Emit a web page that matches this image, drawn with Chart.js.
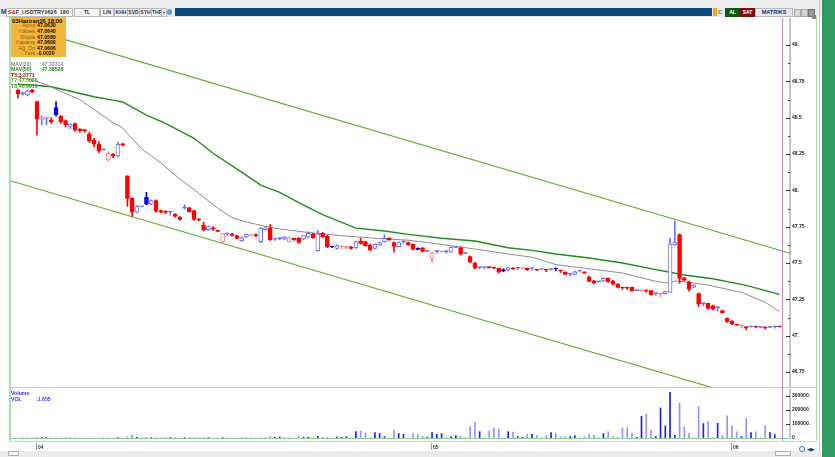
<!DOCTYPE html>
<html>
<head>
<meta charset="utf-8">
<script src="https://cdn.jsdelivr.net/npm/chart.js@4.4.1/dist/chart.umd.min.js"></script>
<style>
  body { margin: 0; width: 835px; height: 457px; overflow: hidden; background: #fff; position: relative;
         font-family: 'Liberation Sans', Arial, sans-serif; }
  .abs { position: absolute; }
  .btn { position: absolute; top: 8px; height: 7px; line-height: 7px; font-size: 5px; font-weight: bold;
         text-align: center; background: #f4f4f4; border: 1px solid #b9b9b9; box-sizing: content-box; color: #333;
         overflow: hidden; white-space: nowrap; }
  .tiny { position: absolute; font-size: 5.2px; font-weight: bold; line-height: 5.5px; white-space: nowrap; }
  #info { left: 11px; top: 17px; width: 55px; height: 40px; background: #f5b53b; }
  #info .row { position: absolute; left: 0; width: 55px; height: 5.5px; font-size: 5.2px; line-height: 5.5px; }
  #info .lab { position: absolute; right: 31px; color: #8a5d12; font-weight: normal; }
  #info .val { position: absolute; left: 26px; color: #111; font-weight: bold; }
</style>
</head>
<body>

<!-- toolbar -->
<div class="abs" style="left:0;top:0;width:822px;height:17px;background:#ececec"></div>
<div class="abs" style="left:1px;top:8px;width:5px;height:8px;font-size:6.5px;font-weight:bold;line-height:8px;color:#1b3f8f">M</div>
<div class="btn" style="left:6px;width:64px;text-align:left;background:#fff;padding-left:1px;font-size:5.5px"><span style="color:#d01818">S&amp;</span>F_USDTRY0626&nbsp;&nbsp;180</div>
<div class="btn" style="left:74px;width:24px">TL</div>
<div class="btn" style="left:100px;width:12px">LIN</div>
<div class="btn" style="left:114px;width:12px">KHH</div>
<div class="btn" style="left:127px;width:11px">SVD</div>
<div class="btn" style="left:139px;width:11px">SYH</div>
<div class="btn" style="left:151px;width:9px">THP</div>
<div class="btn" style="left:161px;width:4px;font-size:4px">&#9660;</div>
<div class="abs" style="left:167px;top:9px;width:5px;height:6px;background:#5aa9e6;border-radius:3px"></div>
<div class="abs" style="left:175px;top:8px;width:537px;height:8px;background:#0d4a7c"></div>
<div class="abs" style="left:713px;top:8px;width:4px;height:8px;background:#f0a820"></div>
<div class="abs" style="left:718px;top:8px;width:5px;height:8px;font-size:6px;line-height:8px;color:#2a8a4a;font-weight:bold">C</div>
<div class="btn" style="left:725px;width:13px;background:#0c5c12;color:#fff;border-color:#0c5c12">AL</div>
<div class="btn" style="left:740px;width:13px;background:#7c0d0d;color:#fff;border-color:#7c0d0d">SAT</div>
<div class="btn" style="left:755px;width:36px;background:#e6e6ee;color:#1f2a66;font-size:5.5px">MATRIKS</div>
<div class="abs" style="left:794px;top:9px;width:5px;height:6px;background:#d6d6d6;border:1px solid #aaa"></div>
<div class="abs" style="left:801px;top:9px;width:5px;height:6px;background:#d6d6d6;border:1px solid #aaa"></div>
<div class="abs" style="left:808px;top:9px;width:5px;height:6px;background:#9a9a9a;border:1px solid #777"></div>
<div class="abs" style="left:812px;top:15px;width:4px;height:4px;background:#8a8a8a"></div>

<!-- right side band -->
<div class="abs" style="left:819px;top:0;width:1px;height:457px;background:#c9c9c9"></div>
<div class="abs" style="left:822px;top:0;width:13px;height:457px;background:#2f9b63"></div>

<!-- charts -->
<div class="abs" style="left:10px;top:18px;width:807px;height:369px"><canvas id="priceChart" width="807" height="369"></canvas></div>
<div class="abs" style="left:10px;top:389px;width:807px;height:63px"><canvas id="volChart" width="807" height="63"></canvas></div>

<!-- frame lines -->
<div class="abs" style="left:9px;top:17px;width:1.5px;height:424px;background:#a9e2a9"></div>
<div class="abs" style="left:816px;top:17px;width:1px;height:424px;background:#a9e2a9"></div>
<div class="abs" style="left:10px;top:386.5px;width:806px;height:1.5px;background:#a9e2a9"></div>
<div class="abs" style="left:10px;top:437.5px;width:780px;height:1.5px;background:#8fd08f"></div>
<div class="abs" style="left:10px;top:440.5px;width:806px;height:1px;background:#d2d2d2"></div>
<div class="abs" style="left:781.5px;top:18px;width:1px;height:423px;background:#c98ac9"></div>
<div class="abs" style="left:0;top:451px;width:822px;height:6px;background:#ebebeb"></div>
<div class="abs" style="left:8px;top:451px;width:9px;height:3px;border:1px solid #b0b0b0;background:#f6f6f6"></div>
<div class="abs" style="left:775px;top:451px;width:14px;height:3px;border:1px solid #b0b0b0;background:#f6f6f6"></div>
<div class="abs" style="left:799px;top:446px;width:6px;height:6px;border-radius:3px;border:1.5px solid #2f6fd0;box-sizing:border-box"></div>
<div class="abs" style="left:807px;top:446px;font-size:5px;line-height:6px;color:#1b3f8f">&#9664;&#9654;</div>

<!-- info box -->
<div id="info" class="abs">
  <div class="abs" style="left:1px;top:0.5px;font-size:5.8px;font-weight:bold;line-height:6px;color:#111">03Haziran26 18:00</div>
</div>

<!-- indicator captions -->
<div class="tiny" style="left:11px;top:61.5px;color:#8a8a8a">MAV(22)</div>
<div class="tiny" style="left:40px;top:61.5px;color:#8a8a8a">:47.33714</div>
<div class="tiny" style="left:11px;top:67px;color:#1e8c1e">MAV(50)</div>
<div class="tiny" style="left:40px;top:67px;color:#1e8c1e">:47.38528</div>
<div class="tiny" style="left:11px;top:72.5px;color:#a41010">T5:3.3771</div>
<div class="tiny" style="left:11px;top:78px;color:#4f9a28">T7:47.5820</div>
<div class="tiny" style="left:11px;top:83.5px;color:#4f9a28">T8:46.9910</div>

<div class="tiny" style="left:11px;top:391px;color:#2f2fff">Volume</div>
<div class="tiny" style="left:11px;top:396.5px;color:#2f2fff">VOL</div>
<div class="tiny" style="left:36px;top:396.5px;color:#2f2fff">:1,655</div>

<script>
// ---- data (one candle per index) ----
const opens = [
  48.690, 48.665, 48.656, 48.690, 48.610, 48.490, 48.495, 48.485, 48.570, 48.510,
  48.480, 48.440, 48.460, 48.420, 48.418, 48.385, 48.346, 48.317, 48.278, 48.210,
  48.248, 48.236, 48.320, 48.100, 47.945, 47.850, 47.888, 47.952, 47.904, 47.930,
  47.860, 47.858, 47.850, 47.835, 47.815, 47.878, 47.880, 47.860, 47.803, 47.760,
  47.730, 47.742, 47.722, 47.646, 47.700, 47.700, 47.688, 47.653, 47.680, 47.690,
  47.695, 47.646, 47.730, 47.740, 47.665, 47.668, 47.665, 47.647, 47.670, 47.670,
  47.665, 47.680, 47.700, 47.585, 47.705, 47.685, 47.614, 47.600, 47.612, 47.607,
  47.612, 47.605, 47.650, 47.647, 47.624, 47.600, 47.624, 47.647, 47.670, 47.640,
  47.612, 47.645, 47.640, 47.628, 47.600, 47.604, 47.580, 47.532, 47.580, 47.577,
  47.578, 47.575, 47.607, 47.605, 47.566, 47.545, 47.500, 47.468, 47.469, 47.472,
  47.470, 47.463, 47.455, 47.452, 47.465, 47.465, 47.462, 47.463, 47.462, 47.454,
  47.455, 47.454, 47.455, 47.463, 47.449, 47.436, 47.422, 47.422, 47.444, 47.438,
  47.405, 47.378, 47.370, 47.376, 47.394, 47.378, 47.355, 47.332, 47.331, 47.332,
  47.310, 47.309, 47.312, 47.310, 47.289, 47.288, 47.289, 47.300, 47.624, 47.695,
  47.398, 47.371, 47.334, 47.290, 47.220, 47.222, 47.206, 47.193, 47.172, 47.120,
  47.100, 47.075, 47.067, 47.058, 47.061, 47.064, 47.057, 47.058, 47.057, 47.061,
  47.063
];
const highs = [
  48.697, 48.675, 48.690, 48.695, 48.615, 48.510, 48.505, 48.500, 48.610, 48.515,
  48.485, 48.460, 48.465, 48.425, 48.420, 48.400, 48.360, 48.335, 48.285, 48.265,
  48.255, 48.330, 48.325, 48.100, 47.950, 47.895, 47.895, 47.986, 47.935, 47.935,
  47.865, 47.860, 47.855, 47.840, 47.820, 47.900, 47.885, 47.865, 47.805, 47.780,
  47.755, 47.750, 47.725, 47.705, 47.705, 47.705, 47.690, 47.680, 47.700, 47.700,
  47.700, 47.745, 47.750, 47.765, 47.670, 47.675, 47.685, 47.680, 47.672, 47.675,
  47.690, 47.715, 47.705, 47.725, 47.710, 47.690, 47.616, 47.625, 47.620, 47.612,
  47.615, 47.650, 47.670, 47.650, 47.630, 47.632, 47.645, 47.695, 47.675, 47.645,
  47.645, 47.652, 47.645, 47.630, 47.605, 47.606, 47.585, 47.575, 47.585, 47.580,
  47.582, 47.610, 47.612, 47.610, 47.570, 47.550, 47.505, 47.472, 47.473, 47.474,
  47.472, 47.465, 47.460, 47.472, 47.468, 47.470, 47.466, 47.466, 47.467, 47.456,
  47.460, 47.456, 47.460, 47.466, 47.451, 47.440, 47.426, 47.445, 47.448, 47.440,
  47.410, 47.380, 47.375, 47.398, 47.398, 47.380, 47.358, 47.334, 47.333, 47.335,
  47.314, 47.313, 47.314, 47.312, 47.293, 47.292, 47.307, 47.670, 47.789, 47.700,
  47.400, 47.375, 47.350, 47.295, 47.225, 47.225, 47.210, 47.197, 47.175, 47.123,
  47.104, 47.077, 47.071, 47.060, 47.065, 47.066, 47.061, 47.060, 47.061, 47.066,
  47.064
];
const lows = [
  48.635, 48.655, 48.650, 48.670, 48.380, 48.450, 48.450, 48.460, 48.510, 48.460,
  48.435, 48.425, 48.405, 48.400, 48.400, 48.330, 48.300, 48.260, 48.275, 48.200,
  48.225, 48.230, 48.305, 47.890, 47.820, 47.845, 47.885, 47.900, 47.900, 47.850,
  47.845, 47.840, 47.830, 47.815, 47.795, 47.870, 47.850, 47.795, 47.790, 47.720,
  47.725, 47.725, 47.715, 47.640, 47.690, 47.685, 47.665, 47.650, 47.675, 47.685,
  47.680, 47.640, 47.728, 47.655, 47.655, 47.660, 47.660, 47.645, 47.655, 47.635,
  47.660, 47.675, 47.670, 47.580, 47.675, 47.605, 47.605, 47.595, 47.600, 47.600,
  47.595, 47.600, 47.630, 47.615, 47.585, 47.595, 47.620, 47.645, 47.655, 47.575,
  47.610, 47.635, 47.620, 47.590, 47.590, 47.575, 47.578, 47.505, 47.570, 47.575,
  47.568, 47.572, 47.605, 47.555, 47.565, 47.500, 47.460, 47.460, 47.460, 47.465,
  47.460, 47.430, 47.440, 47.448, 47.455, 47.455, 47.460, 47.448, 47.452, 47.448,
  47.453, 47.440, 47.450, 47.448, 47.435, 47.418, 47.410, 47.420, 47.442, 47.428,
  47.370, 47.360, 47.368, 47.373, 47.368, 47.350, 47.328, 47.318, 47.318, 47.305,
  47.308, 47.305, 47.298, 47.278, 47.278, 47.268, 47.286, 47.298, 47.620, 47.360,
  47.378, 47.307, 47.330, 47.199, 47.205, 47.183, 47.178, 47.170, 47.155, 47.092,
  47.076, 47.070, 47.055, 47.040, 47.059, 47.056, 47.055, 47.046, 47.055, 47.052,
  47.058
];
const closes = [
  48.663, 48.668, 48.683, 48.677, 48.490, 48.495, 48.500, 48.470, 48.520, 48.470,
  48.450, 48.456, 48.415, 48.410, 48.408, 48.340, 48.317, 48.270, 48.282, 48.255,
  48.236, 48.317, 48.310, 47.945, 47.850, 47.890, 47.892, 47.904, 47.930, 47.857,
  47.850, 47.848, 47.852, 47.820, 47.800, 47.882, 47.853, 47.800, 47.797, 47.730,
  47.750, 47.732, 47.718, 47.700, 47.702, 47.690, 47.670, 47.674, 47.697, 47.695,
  47.688, 47.740, 47.742, 47.660, 47.668, 47.672, 47.680, 47.675, 47.660, 47.642,
  47.688, 47.705, 47.675, 47.700, 47.680, 47.610, 47.610, 47.620, 47.615, 47.610,
  47.600, 47.647, 47.635, 47.620, 47.590, 47.628, 47.640, 47.670, 47.660, 47.614,
  47.640, 47.648, 47.625, 47.594, 47.594, 47.580, 47.582, 47.570, 47.582, 47.579,
  47.580, 47.607, 47.610, 47.560, 47.568, 47.505, 47.465, 47.470, 47.471, 47.468,
  47.465, 47.437, 47.445, 47.468, 47.460, 47.467, 47.464, 47.452, 47.464, 47.451,
  47.457, 47.451, 47.458, 47.459, 47.446, 47.422, 47.424, 47.440, 47.446, 47.432,
  47.373, 47.362, 47.372, 47.394, 47.371, 47.355, 47.332, 47.328, 47.327, 47.310,
  47.312, 47.311, 47.308, 47.282, 47.291, 47.290, 47.304, 47.631, 47.641, 47.394,
  47.382, 47.320, 47.348, 47.217, 47.222, 47.188, 47.183, 47.195, 47.158, 47.096,
  47.080, 47.072, 47.069, 47.055, 47.063, 47.059, 47.059, 47.054, 47.059, 47.063,
  47.060
];
const volumes = [
  0, 0, 0, 0, 4000, 4000, 3000, 0, 3000, 0,
  3000, 0, 3000, 0, 0, 0, 0, 0, 0, 0,
  0, 3000, 0, 8000, 21000, 4000, 0, 4000, 3000, 3000,
  0, 3000, 3000, 3000, 0, 3000, 3000, 3000, 0, 3000,
  3000, 0, 0, 3000, 0, 0, 0, 0, 0, 0,
  0, 0, 0, 10000, 5000, 8000, 0, 0, 0, 15000,
  6000, 6000, 0, 12000, 6000, 6000, 0, 6000, 5000, 10000,
  0, 45000, 50000, 35000, 0, 38000, 31000, 10000, 0, 57000,
  31000, 26000, 0, 35000, 24000, 12000, 5000, 38000, 26000, 31000,
  0, 10000, 17000, 10000, 0, 80000, 109000, 45000, 0, 50000,
  73000, 64000, 0, 45000, 42000, 10000, 5000, 26000, 26000, 19000,
  0, 17000, 38000, 35000, 10000, 10000, 10000, 17000, 0, 10000,
  26000, 17000, 0, 31000, 45000, 10000, 5000, 71000, 73000, 33000,
  5000, 154000, 170000, 54000, 10000, 213000, 85000, 324000, 19000, 248000,
  78000, 33000, 0, 222000, 102000, 116000, 3000, 104000, 17000, 158000,
  85000, 45000, 10000, 139000, 38000, 45000, 0, 87000, 38000, 24000,
  0
];

// moving averages, sampled along the drawn lines
const ma22Idx = [0, 3, 6, 9, 13, 16, 20, 22, 23, 26, 30, 34, 38, 42, 45, 48, 52, 55, 61, 68, 75, 82, 89, 96, 103, 108, 113, 120, 127, 134, 137, 138, 140, 145, 152, 157, 160];
const ma22Val = [48.780, 48.760, 48.727, 48.680, 48.625, 48.555, 48.465, 48.430, 48.390, 48.285, 48.190, 48.078, 47.980, 47.876, 47.812, 47.782, 47.752, 47.734, 47.710, 47.688, 47.670, 47.657, 47.628, 47.596, 47.562, 47.540, 47.489, 47.460, 47.431, 47.374, 47.360, 47.376, 47.371, 47.348, 47.298, 47.230, 47.165];
const ma50Idx = [0, 3, 7, 16, 20, 22, 27, 31, 37, 41, 47, 51, 55, 59, 64, 71, 77, 82, 89, 96, 103, 108, 113, 120, 127, 134, 137, 140, 146, 153, 160];
const ma50Val = [48.730, 48.725, 48.713, 48.644, 48.621, 48.608, 48.518, 48.461, 48.358, 48.255, 48.125, 48.036, 47.986, 47.915, 47.833, 47.740, 47.720, 47.697, 47.670, 47.651, 47.605, 47.587, 47.562, 47.534, 47.500, 47.454, 47.436, 47.417, 47.392, 47.346, 47.284];

// trend channel (T7 upper, T8 lower)
const channelIdx = [-1.67, 162.2];
const channelUpper = [49.149, 47.567];
const channelLower = [48.066, 46.485];

const priceTicks = [46.75, 47, 47.25, 47.5, 47.75, 48, 48.25, 48.5, 48.75, 49];
const volumeTicks = [0, 100000, 200000, 300000];
const dayStarts = [4, 87, 150];
const dayLabels = ['04', '05', '06'];

const infoLabels = ['Açılış', 'Yüksek', 'Düşük', 'Kapanış', 'Ağ. Ort', 'Fark'];
const avgPrice = '47.0606';

// ---- view ----
const X_MIN = -1.67, X_MAX = 162.2;
const BLUE = '#0000ff', BLUE_LIGHT = '#7070ff', RED = '#ff0000', RED_LIGHT = '#ff8585';
const tickFont = { family: 'Liberation Sans', size: 5, weight: 'bold' };

const last = closes.length - 1;
const infoValues = [opens[last], highs[last], lows[last], closes[last]].map(v => v.toFixed(4))
  .concat([avgPrice, (closes[last] - closes[last - 1]).toFixed(4)]);
const info = document.getElementById('info');
infoLabels.forEach((lab, k) => {
  const row = document.createElement('div');
  row.className = 'row';
  row.style.top = (6.4 + k * 5.6) + 'px';
  row.innerHTML = `<span class="lab">${lab}</span><span class="val">${infoValues[k]}</span>`;
  info.appendChild(row);
});

const styles = closes.map((c, i) => {
  const prev = i > 0 ? closes[i - 1] : opens[i];
  const rising = c >= prev;
  const hollow = c > opens[i];
  const flat = Math.abs(c - opens[i]) < 0.004;
  const line = rising ? (hollow ? BLUE_LIGHT : BLUE) : (hollow ? RED_LIGHT : RED);
  return { line, fill: hollow && !flat ? '#ffffff' : line };
});

function priceLabel(v) {
  const r = Math.round(v * 1000) / 1000;
  return Number.isInteger(r) ? r + '.' : String(r);
}

function fitRight(scale) {
  scale.width = 27;
  scale.paddingTop = 0;
  scale.paddingBottom = 0;
}

// small tick marks left of the grey axis bar, minor ones half way
const axisMarks = {
  id: 'axisMarks',
  afterDraw(chart, args, opts) {
    const ctx = chart.ctx, y = chart.scales.y, right = chart.chartArea.right;
    const vals = y.ticks.map(t => t.value);
    ctx.save();
    ctx.strokeStyle = '#3a3a3a';
    ctx.lineWidth = 1;
    vals.forEach((v, k) => {
      const py = Math.round(y.getPixelForValue(v)) + 0.5;
      ctx.beginPath(); ctx.moveTo(right - 4, py); ctx.lineTo(right, py); ctx.stroke();
      if (opts.minor && k < vals.length - 1) {
        const my = Math.round(y.getPixelForValue((v + vals[k + 1]) / 2)) + 0.5;
        ctx.beginPath(); ctx.moveTo(right - 2, my); ctx.lineTo(right, my); ctx.stroke();
      }
    });
    ctx.restore();
  }
};

const dayMarks = {
  id: 'dayMarks',
  afterDraw(chart) {
    const ctx = chart.ctx, x = chart.scales.x, bottom = chart.chartArea.bottom;
    ctx.save();
    ctx.font = 'bold 5px "Liberation Sans"';
    ctx.textBaseline = 'middle';
    dayStarts.forEach((d, k) => {
      const px = Math.round(x.getPixelForValue(d)) - 0.5;
      ctx.strokeStyle = '#9a9a9a';
      ctx.beginPath(); ctx.moveTo(px, bottom + 5); ctx.lineTo(px, bottom + 12); ctx.stroke();
      ctx.fillStyle = '#333';
      ctx.fillText(dayLabels[k], px + 1.5, bottom + 9.5);
    });
    ctx.restore();
  }
};

new Chart(document.getElementById('priceChart'), {
  type: 'bar',
  data: {
    datasets: [
      {
        label: 'wick',
        data: lows.map((l, i) => ({ x: i, y: [l, highs[i]] })),
        backgroundColor: styles.map(s => s.line),
        barThickness: 1, grouped: false, order: 1
      },
      {
        label: 'body',
        data: opens.map((o, i) => ({ x: i, y: [o, closes[i]] })),
        backgroundColor: styles.map(s => s.fill),
        borderColor: styles.map(s => s.line),
        borderWidth: 1, borderSkipped: false, barThickness: 4, minBarLength: 1,
        grouped: false, order: 0
      },
      {
        type: 'line', label: 'MAV(22)',
        data: ma22Idx.map((x, k) => ({ x, y: ma22Val[k] })),
        borderColor: '#8d8d8d', borderWidth: 1, pointRadius: 0, tension: 0, order: 3
      },
      {
        type: 'line', label: 'MAV(50)',
        data: ma50Idx.map((x, k) => ({ x, y: ma50Val[k] })),
        borderColor: '#1e8c1e', borderWidth: 1.4, pointRadius: 0, tension: 0, order: 3
      },
      {
        type: 'line', label: 'T7',
        data: channelIdx.map((x, k) => ({ x, y: channelUpper[k] })),
        borderColor: '#5fa82f', borderWidth: 1.1, pointRadius: 0, order: 4
      },
      {
        type: 'line', label: 'T8',
        data: channelIdx.map((x, k) => ({ x, y: channelLower[k] })),
        borderColor: '#5fa82f', borderWidth: 1.1, pointRadius: 0, order: 4
      }
    ]
  },
  options: {
    responsive: false,
    animation: false,
    layout: { padding: 0 },
    plugins: { legend: { display: false }, tooltip: { enabled: false }, axisMarks: { minor: true } },
    scales: {
      x: { type: 'linear', min: X_MIN, max: X_MAX, offset: false, display: false },
      y: {
        type: 'linear', position: 'right', min: 46.6468, max: 49.1858,
        afterBuildTicks: s => { s.ticks = priceTicks.map(v => ({ value: v })); },
        afterFit: fitRight,
        grid: { display: false, drawTicks: false },
        border: { display: true, color: '#c6c6c6', width: 2 },
        ticks: { font: tickFont, color: '#222', padding: 2, autoSkip: false, callback: priceLabel }
      }
    }
  },
  plugins: [axisMarks]
});

new Chart(document.getElementById('volChart'), {
  type: 'bar',
  data: {
    datasets: [{
      label: 'Volume',
      data: volumes.map((v, i) => ({ x: i, y: v })),
      backgroundColor: closes.map((c, i) => c >= opens[i] ? '#1c1cff' : '#9494ff'),
      barThickness: 1, grouped: false
    }]
  },
  options: {
    responsive: false,
    animation: false,
    layout: { padding: { bottom: 14 } },
    plugins: { legend: { display: false }, tooltip: { enabled: false }, axisMarks: { minor: false } },
    scales: {
      x: { type: 'linear', min: X_MIN, max: X_MAX, offset: false, display: false },
      y: {
        type: 'linear', position: 'right', min: 0, max: 347500,
        afterBuildTicks: s => { s.ticks = volumeTicks.map(v => ({ value: v })); },
        afterFit: fitRight,
        grid: { display: false, drawTicks: false },
        border: { display: true, color: '#c6c6c6', width: 2 },
        ticks: { font: tickFont, color: '#222', padding: 2, autoSkip: false,
                 callback: v => v === 0 ? '0' : v + '.' }
      }
    }
  },
  plugins: [axisMarks, dayMarks]
});
</script>
</body>
</html>
